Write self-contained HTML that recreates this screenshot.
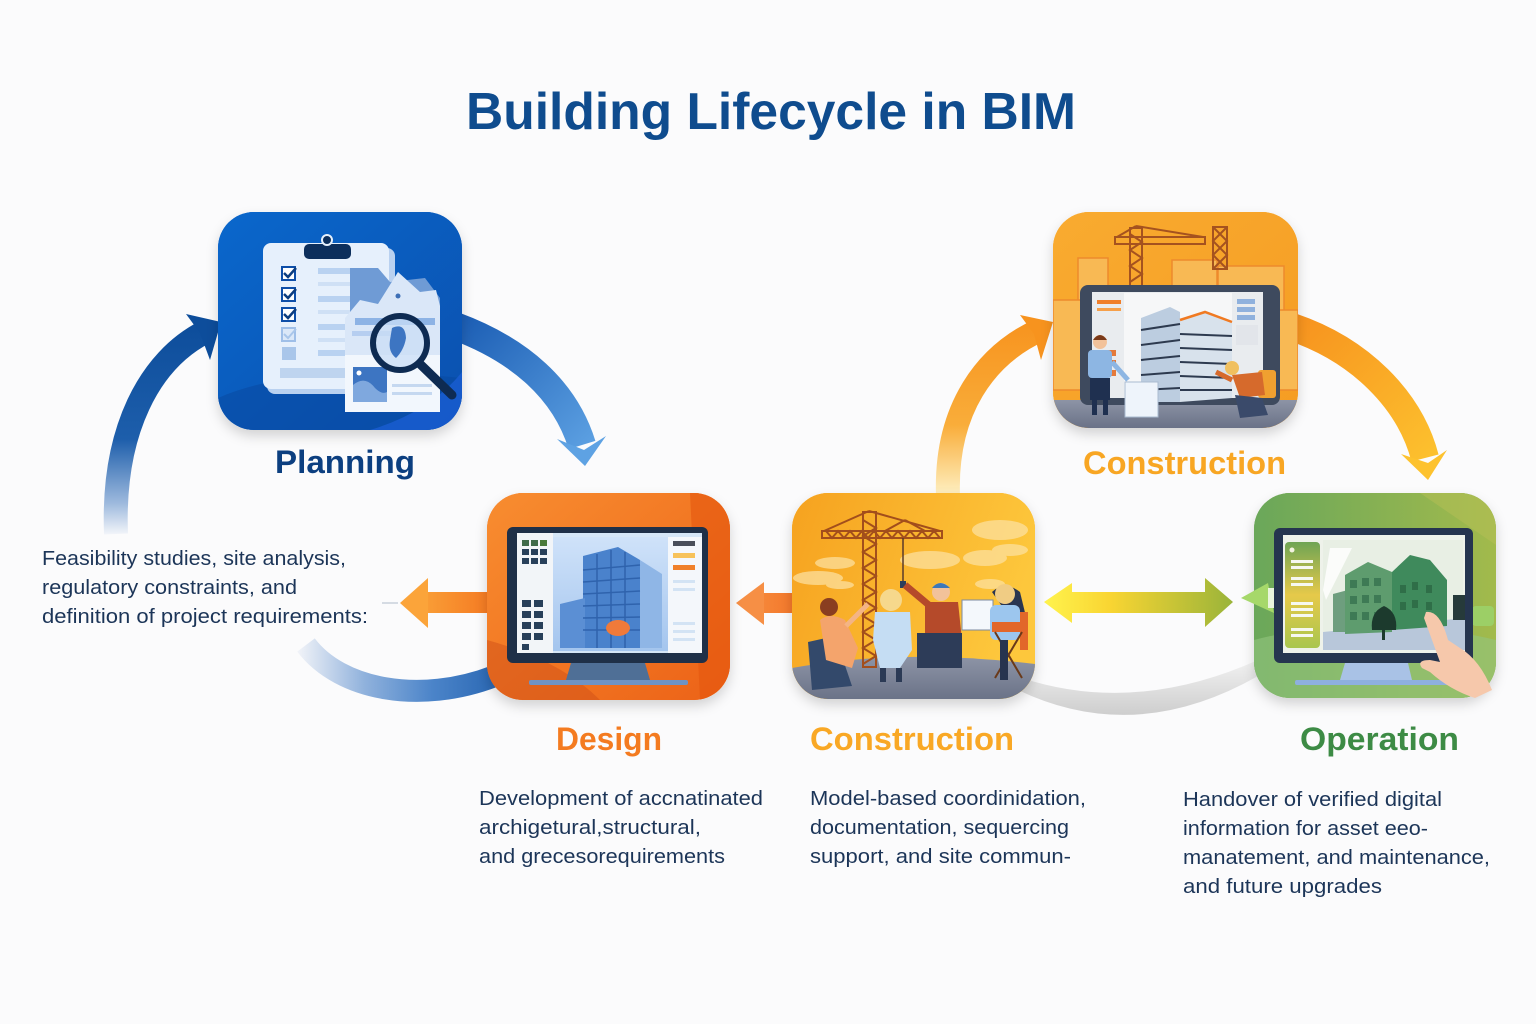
<!DOCTYPE html>
<html><head><meta charset="utf-8">
<style>
html,body{margin:0;padding:0;background:#fbfbfc;}
svg{display:block}
text{font-family:"Liberation Sans",Arial,sans-serif}
</style></head><body>
<svg width="1536" height="1024" viewBox="0 0 1536 1024" xmlns="http://www.w3.org/2000/svg">
<defs>
 <linearGradient id="gL" gradientUnits="userSpaceOnUse" x1="0" y1="322" x2="0" y2="535"><stop offset="0" stop-color="#0d4d9b"/><stop offset="0.55" stop-color="#1d5eab"/><stop offset="0.85" stop-color="#9db9dd"/><stop offset="1" stop-color="#f4f6fa"/></linearGradient>
 <linearGradient id="gR" gradientUnits="userSpaceOnUse" x1="455" y1="320" x2="600" y2="460"><stop offset="0" stop-color="#1a5cb3"/><stop offset="1" stop-color="#62a6e6"/></linearGradient>
 <linearGradient id="gB" gradientUnits="userSpaceOnUse" x1="298" y1="0" x2="490" y2="0"><stop offset="0" stop-color="#f1f3f8"/><stop offset="0.35" stop-color="#8fb1dc"/><stop offset="0.7" stop-color="#4b84c9"/><stop offset="1" stop-color="#2e6bb6"/></linearGradient>
 <linearGradient id="gOL" gradientUnits="userSpaceOnUse" x1="400" y1="0" x2="490" y2="0"><stop offset="0" stop-color="#fbab3e"/><stop offset="1" stop-color="#f57a22"/></linearGradient>
 <linearGradient id="gOM" gradientUnits="userSpaceOnUse" x1="735" y1="0" x2="795" y2="0"><stop offset="0" stop-color="#f69345"/><stop offset="1" stop-color="#f4772a"/></linearGradient>
 <linearGradient id="gOU" gradientUnits="userSpaceOnUse" x1="0" y1="320" x2="0" y2="495"><stop offset="0" stop-color="#f7931e"/><stop offset="0.6" stop-color="#f9ad3a"/><stop offset="1" stop-color="#fef0c2"/></linearGradient>
 <linearGradient id="gOD" gradientUnits="userSpaceOnUse" x1="1292" y1="320" x2="1440" y2="480"><stop offset="0" stop-color="#f7921e"/><stop offset="1" stop-color="#fdc630"/></linearGradient>
 <linearGradient id="gDA" gradientUnits="userSpaceOnUse" x1="1044" y1="0" x2="1233" y2="0"><stop offset="0" stop-color="#fff34d"/><stop offset="0.35" stop-color="#f9d532"/><stop offset="1" stop-color="#9ab43a"/></linearGradient>
 <linearGradient id="gGr" gradientUnits="userSpaceOnUse" x1="0" y1="660" x2="0" y2="716"><stop offset="0" stop-color="#f2f2f2"/><stop offset="1" stop-color="#cdcdcd"/></linearGradient>
 <linearGradient id="tP" x1="0" y1="0" x2="1" y2="1"><stop offset="0" stop-color="#0a67cc"/><stop offset="1" stop-color="#0b50ae"/></linearGradient>
 <linearGradient id="tD" x1="0" y1="0" x2="1" y2="1"><stop offset="0" stop-color="#f88d30"/><stop offset="1" stop-color="#ec6217"/></linearGradient>
 <linearGradient id="tC" x1="0" y1="0" x2="1" y2="0.3"><stop offset="0" stop-color="#f6a21f"/><stop offset="1" stop-color="#fdc73c"/></linearGradient>
 <linearGradient id="tT" x1="0" y1="0" x2="1" y2="1"><stop offset="0" stop-color="#f9ab30"/><stop offset="1" stop-color="#f59c22"/></linearGradient>
 <linearGradient id="tO" x1="0" y1="0" x2="1" y2="0"><stop offset="0" stop-color="#6aa75a"/><stop offset="1" stop-color="#a2ba4c"/></linearGradient>
 <linearGradient id="gOP" x1="0" y1="0" x2="0" y2="1"><stop offset="0" stop-color="#6fa454"/><stop offset="0.5" stop-color="#e6c94a"/><stop offset="1" stop-color="#a9c64e"/></linearGradient>
 <linearGradient id="gSky" x1="0" y1="0" x2="0" y2="1"><stop offset="0" stop-color="#cfe2f9"/><stop offset="1" stop-color="#a4c5ee"/></linearGradient>
 <linearGradient id="gGnd" x1="0" y1="0" x2="0" y2="1"><stop offset="0" stop-color="#8d94a6"/><stop offset="1" stop-color="#6a7287"/></linearGradient>
 <clipPath id="cP"><rect x="218" y="212" width="244" height="218" rx="36"/></clipPath>
 <clipPath id="cD"><rect x="487" y="493" width="243" height="207" rx="36"/></clipPath>
 <clipPath id="cC"><rect x="792" y="493" width="243" height="206" rx="36"/></clipPath>
 <clipPath id="cT"><rect x="1053" y="212" width="245" height="216" rx="36"/></clipPath>
 <clipPath id="cO"><rect x="1254" y="493" width="242" height="205" rx="36"/></clipPath>
 <filter id="sh" x="-20%" y="-20%" width="140%" height="150%"><feDropShadow dx="0" dy="6" stdDeviation="6" flood-color="#000" flood-opacity="0.16"/></filter>
</defs>

<rect x="0" y="0" width="1536" height="1024" fill="#fbfbfc"/>

<!-- Title -->
<text x="466" y="129" font-size="52" font-weight="bold" fill="#0f4c8e" textLength="610" lengthAdjust="spacingAndGlyphs">Building Lifecycle in BIM</text>

<!-- Arrows -->
<path d="M116 534 C112 430 150 360 205 332" fill="none" stroke="url(#gL)" stroke-width="24"/>
<polygon points="221,322 186,314 200,333 210,360" fill="#0d4d9b"/>

<path d="M455 326 C520 350 565 390 582 445" fill="none" stroke="url(#gR)" stroke-width="28"/>
<polygon points="585,466 557,439 584,450 606,436" fill="#5ea2e3"/>

<path d="M306 645 C340 690 420 705 495 676" fill="none" stroke="url(#gB)" stroke-width="22"/>

<line x1="382" y1="603" x2="398" y2="603" stroke="#d5dbe3" stroke-width="2"/>
<rect x="425" y="592" width="66" height="21" fill="url(#gOL)"/>
<polygon points="400,603 428,578 428,628" fill="#fba43a"/>

<rect x="760" y="593" width="36" height="20" fill="url(#gOM)"/>
<polygon points="736,603 764,582 764,625" fill="#f68f45"/>

<path d="M948 496 C945 410 985 355 1040 330" fill="none" stroke="url(#gOU)" stroke-width="24"/>
<polygon points="1053,322 1020,315 1034,334 1041,360" fill="#f7931e"/>

<path d="M1292 327 C1360 350 1410 400 1425 458" fill="none" stroke="url(#gOD)" stroke-width="28"/>
<polygon points="1428,480 1401,454 1428,463 1447,450" fill="#fdc22e"/>

<polygon points="1044,602 1072,583 1072,592 1205,592 1205,578 1233,602 1205,627 1205,613 1072,613 1072,623" fill="url(#gDA)"/>

<path d="M1018 690 Q1135 746 1258 676 L1258 660 Q1135 715 1022 678 Z" fill="url(#gGr)"/>

<!-- Planning tile -->
<rect x="218" y="212" width="244" height="218" rx="36" fill="#0b5cc0" filter="url(#sh)"/>
<g clip-path="url(#cP)">
 <rect x="218" y="212" width="244" height="218" fill="url(#tP)"/>
 <path d="M218 398 Q300 362 462 378 L462 430 L218 430Z" fill="#0a48a0" opacity="0.55"/>
 <path d="M370 430 Q430 412 462 372 L462 430Z" fill="#1c60d8" opacity="0.7"/>
</g>
<rect x="267" y="248" width="128" height="146" rx="8" fill="#b9d1f0"/>
<rect x="263" y="243" width="126" height="146" rx="8" fill="#e6f0fc"/>
<rect x="304" y="244" width="47" height="15" rx="5" fill="#0d2f5c"/>
<circle cx="327" cy="240" r="5" fill="#0d2f5c" stroke="#e6f0fc" stroke-width="2"/>
<g stroke-width="2" fill="#fff">
 <rect x="282" y="267" width="13" height="13" stroke="#0d4ea8"/>
 <rect x="282" y="288" width="13" height="13" stroke="#0d4ea8"/>
 <rect x="282" y="308" width="13" height="13" stroke="#0d4ea8"/>
 <rect x="282" y="328" width="13" height="13" stroke="#9fbfe8" fill="#dbe8f8"/>
</g>
<g fill="none" stroke="#0d3e80" stroke-width="2.5">
 <path d="M284 273 l4 4 l8 -9"/><path d="M284 294 l4 4 l8 -9"/><path d="M284 314 l4 4 l8 -9"/>
</g>
<path d="M284 334 l4 4 l8 -9" fill="none" stroke="#a9c6ea" stroke-width="2"/>
<rect x="282" y="347" width="14" height="13" fill="#a9c6ea"/>
<g fill="#b9d2f1">
 <rect x="318" y="268" width="55" height="6"/><rect x="318" y="282" width="50" height="4" fill="#cfe0f5"/>
 <rect x="318" y="296" width="55" height="6"/><rect x="318" y="310" width="50" height="4" fill="#cfe0f5"/>
 <rect x="318" y="324" width="55" height="6"/><rect x="318" y="338" width="50" height="4" fill="#cfe0f5"/>
 <rect x="318" y="350" width="55" height="6"/>
 <rect x="280" y="368" width="93" height="10" fill="#bed4ef"/>
</g>
<path d="M350 268 L378 268 L390 282 L425 278 L440 298 L440 330 L350 330Z" fill="#6f9bd5"/>
<path d="M345 318 L360 300 L378 304 L398 272 L420 292 L436 290 L440 306 L440 412 L345 412Z" fill="#dae7f8"/>
<rect x="345" y="355" width="95" height="57" fill="#f2f7fd"/>
<circle cx="398" cy="296" r="2.5" fill="#3d6fb6"/>
<rect x="355" y="318" width="80" height="7" fill="#8db3e5"/>
<rect x="352" y="331" width="40" height="5" fill="#b6cef0"/>
<rect x="353" y="367" width="34" height="35" fill="#3d75c2"/>
<path d="M353 402 L353 385 Q365 375 375 388 Q382 395 387 392 L387 402Z" fill="#7fa8de"/>
<circle cx="359" cy="373" r="2.5" fill="#fff"/>
<rect x="392" y="384" width="40" height="3" fill="#c5d8f0"/>
<rect x="392" y="392" width="40" height="3" fill="#c5d8f0"/>
<circle cx="400" cy="343" r="27" fill="#c9ddf5" fill-opacity="0.75" stroke="#0e2b52" stroke-width="6"/>
<path d="M392 328 Q405 322 406 338 Q404 350 396 358 Q388 352 390 340Z" fill="#3d75c2"/>
<line x1="420" y1="364" x2="452" y2="395" stroke="#0e2b52" stroke-width="9" stroke-linecap="round"/>

<!-- Design tile -->
<rect x="487" y="493" width="243" height="207" rx="36" fill="#f07020" filter="url(#sh)"/>
<g clip-path="url(#cD)">
 <rect x="487" y="493" width="243" height="207" fill="url(#tD)"/>
 <path d="M487 640 Q560 660 600 700 L487 700Z" fill="#cf4f18" opacity="0.5"/>
 <path d="M690 493 L730 493 L730 700 L700 700 Z" fill="#e4560f" opacity="0.6"/>
</g>
<rect x="507" y="527" width="201" height="136" rx="6" fill="#1f3048"/>
<rect x="517" y="533" width="185" height="120" fill="#d5e6f7"/>
<rect x="517" y="533" width="36" height="120" fill="#f2f5f8"/>
<g fill="#28405a">
 <rect x="522" y="540" width="7" height="6" fill="#3f6b4a"/><rect x="531" y="540" width="7" height="6" fill="#3f6b4a"/><rect x="540" y="540" width="7" height="6" fill="#4a7a3a"/>
 <rect x="522" y="549" width="7" height="6"/><rect x="531" y="549" width="7" height="6"/><rect x="540" y="549" width="7" height="6"/>
 <rect x="522" y="558" width="7" height="6"/><rect x="531" y="558" width="7" height="6"/><rect x="540" y="558" width="7" height="6"/>
 <rect x="522" y="600" width="9" height="7"/><rect x="534" y="600" width="9" height="7"/>
 <rect x="522" y="611" width="9" height="7"/><rect x="534" y="611" width="9" height="7"/>
 <rect x="522" y="622" width="9" height="7"/><rect x="534" y="622" width="9" height="7"/>
 <rect x="522" y="633" width="9" height="7"/><rect x="534" y="633" width="9" height="7"/>
 <rect x="522" y="644" width="7" height="6"/>
</g>
<rect x="553" y="537" width="115" height="114" fill="url(#gSky)"/>
<polygon points="583,556 618,547 640,560 640,648 583,648" fill="#4a82cc"/>
<polygon points="640,560 662,574 662,648 640,648" fill="#8fb6e6"/>
<polygon points="560,604 585,598 585,648 560,648" fill="#5b8fd4"/>
<g stroke="#2f63ad" stroke-width="1.5">
 <line x1="583" y1="570" x2="640" y2="565"/><line x1="583" y1="582" x2="640" y2="578"/><line x1="583" y1="594" x2="640" y2="591"/><line x1="583" y1="606" x2="640" y2="604"/><line x1="583" y1="618" x2="640" y2="617"/><line x1="583" y1="630" x2="640" y2="630"/>
 <line x1="597" y1="554" x2="597" y2="648"/><line x1="611" y1="550" x2="611" y2="648"/><line x1="625" y1="552" x2="625" y2="648"/>
</g>
<ellipse cx="618" cy="628" rx="12" ry="8" fill="#f07a3a"/>
<rect x="668" y="537" width="34" height="116" fill="#f4f7fb"/>
<rect x="673" y="541" width="22" height="5" fill="#4a4f5a"/>
<rect x="673" y="553" width="22" height="5" fill="#f7c25a"/>
<rect x="673" y="565" width="22" height="5" fill="#f0802a"/>
<g fill="#d3e3f4"><rect x="673" y="580" width="22" height="3"/><rect x="673" y="588" width="22" height="3"/><rect x="673" y="622" width="22" height="3"/><rect x="673" y="630" width="22" height="3"/><rect x="673" y="638" width="22" height="3"/></g>
<polygon points="571,663 645,663 650,680 566,680" fill="#4f6f96"/>
<rect x="529" y="680" width="159" height="5" rx="2" fill="#6f93c4"/>

<!-- Construction (middle) tile -->
<rect x="792" y="493" width="243" height="206" rx="36" fill="#f8b02c" filter="url(#sh)"/>
<g clip-path="url(#cC)">
 <rect x="792" y="493" width="243" height="206" fill="url(#tC)"/>
 <g fill="#fde3a5" opacity="0.7">
  <ellipse cx="1000" cy="530" rx="28" ry="10"/><ellipse cx="985" cy="558" rx="22" ry="8"/><ellipse cx="835" cy="563" rx="20" ry="6"/><ellipse cx="818" cy="578" rx="25" ry="7"/><ellipse cx="930" cy="560" rx="30" ry="9"/><ellipse cx="990" cy="584" rx="15" ry="5"/><ellipse cx="1010" cy="550" rx="18" ry="6"/><ellipse cx="840" cy="585" rx="14" ry="4"/>
 </g>
 <path d="M792 668 Q900 648 1035 664 L1035 700 L792 700Z" fill="url(#gGnd)"/>
 <g stroke="#a24e1c" stroke-width="2" fill="none">
  <rect x="863" y="512" width="13" height="155"/>
  <polyline points="863,520 876,528 863,536 876,544 863,552 876,560 863,568 876,576 863,584 876,592 863,600 876,608 863,616 876,624 863,632 876,640 863,648 876,656 863,664"/>
  <rect x="822" y="531" width="120" height="7"/>
  <polyline points="826,531 832,538 838,531 844,538 850,531 856,538 862,531 868,538 874,531 880,538 886,531 892,538 898,531 904,538 910,531 916,538 922,531 928,538 934,531 940,538"/>
  <line x1="869" y1="511" x2="824" y2="531"/><line x1="869" y1="511" x2="940" y2="531"/>
  <line x1="905" y1="520" x2="885" y2="531"/><line x1="905" y1="520" x2="925" y2="531"/>
 </g>
 <line x1="903" y1="538" x2="903" y2="582" stroke="#5a3a2a" stroke-width="1.5"/>
 <rect x="900" y="581" width="6" height="7" fill="#2c3e5c"/>
 <path d="M808 642 L835 636 L852 686 L812 690Z" fill="#33496b"/>
 <path d="M820 620 Q830 612 845 620 L858 648 L852 668 L826 660Z" fill="#f4a46c"/>
 <circle cx="829" cy="607" r="9" fill="#8a3e20"/>
 <path d="M846 626 L868 604" stroke="#f4b485" stroke-width="5"/>
 <path d="M875 612 L910 612 L912 650 L900 668 L880 668 L873 640Z" fill="#c5ddf3"/>
 <circle cx="891" cy="600" r="11" fill="#f6d88c"/>
 <rect x="880" y="668" width="6" height="14" fill="#2b3a55"/><rect x="896" y="668" width="6" height="14" fill="#2b3a55"/>
 <path d="M925 602 L958 602 L962 640 L925 640Z" fill="#b54a2a"/>
 <path d="M930 606 L905 585" stroke="#b54a2a" stroke-width="7"/>
 <circle cx="941" cy="592" r="9" fill="#f2c29a"/>
 <path d="M932 588 Q940 578 950 588 Z" fill="#3d78b8"/>
 <rect x="917" y="633" width="45" height="35" fill="#2d3c58"/>
 <rect x="962" y="600" width="31" height="30" fill="#f4f8fc" stroke="#7c8aa0" stroke-width="1"/>
 <path d="M992 592 Q1005 580 1020 592 L1028 625 L1015 625Z" fill="#2a3550"/>
 <rect x="990" y="605" width="30" height="35" rx="6" fill="#9cc6ee"/>
 <circle cx="1005" cy="594" r="10" fill="#f0cc84"/>
 <rect x="992" y="622" width="36" height="10" fill="#e2672a"/>
 <rect x="1020" y="612" width="8" height="38" fill="#e2672a"/>
 <path d="M995 632 L1022 678 M1022 632 L995 678" stroke="#6a3a1a" stroke-width="2"/>
 <rect x="1000" y="640" width="8" height="40" fill="#27344f"/>
</g>

<!-- Construction (top) tile -->
<rect x="1053" y="212" width="245" height="216" rx="36" fill="#f8a629" filter="url(#sh)"/>
<g clip-path="url(#cT)">
 <rect x="1053" y="212" width="245" height="216" fill="url(#tT)"/>
 <g fill="#f8b954" stroke="#ee8a2c" stroke-width="1.5">
  <rect x="1078" y="258" width="30" height="45"/><rect x="1172" y="260" width="45" height="30"/><rect x="1218" y="266" width="66" height="60"/><rect x="1053" y="300" width="30" height="90"/><rect x="1268" y="310" width="30" height="80"/>
 </g>
 <g stroke="#a5521f" stroke-width="2" fill="none">
  <rect x="1130" y="228" width="12" height="58"/>
  <polyline points="1130,234 1142,242 1130,250 1142,258 1130,266 1142,274 1130,282"/>
  <rect x="1115" y="237" width="90" height="7"/>
  <line x1="1136" y1="226" x2="1117" y2="237"/><line x1="1136" y1="226" x2="1203" y2="237"/>
  <rect x="1213" y="227" width="14" height="42"/>
  <polyline points="1213,227 1227,241 1213,255 1227,269"/><polyline points="1227,227 1213,241 1227,255 1213,269"/>
 </g>
 <path d="M1053 400 L1298 400 L1298 428 L1053 428Z" fill="url(#gGnd)"/>
</g>
<rect x="1080" y="285" width="200" height="120" rx="8" fill="#3e4a5e"/>
<rect x="1092" y="292" width="171" height="106" fill="#e9ecef"/>
<rect x="1124" y="293" width="108" height="105" fill="#f6f7f8"/>
<rect x="1097" y="300" width="24" height="4" fill="#f07f2a"/>
<rect x="1097" y="308" width="24" height="3" fill="#f6a04a"/>
<g fill="#e57a3a"><rect x="1108" y="350" width="8" height="6"/><rect x="1108" y="360" width="8" height="6"/><rect x="1108" y="370" width="8" height="6"/></g>
<rect x="1237" y="299" width="18" height="5" fill="#8fb1dd"/>
<rect x="1237" y="307" width="18" height="5" fill="#8fb1dd"/>
<rect x="1237" y="315" width="18" height="5" fill="#8fb1dd"/>
<rect x="1236" y="325" width="22" height="20" fill="#e2e5ea"/>
<polygon points="1141,318 1170,307 1180,312 1180,402 1141,402" fill="#bccde0"/>
<polygon points="1180,320 1205,312 1232,322 1232,398 1180,402" fill="#d8e2ec"/>
<polyline points="1180,320 1205,312 1232,322" fill="none" stroke="#f07a22" stroke-width="2.5"/>
<g stroke="#2d3a4f" stroke-width="2">
 <line x1="1141" y1="330" x2="1180" y2="324"/><line x1="1141" y1="345" x2="1180" y2="340"/><line x1="1141" y1="360" x2="1180" y2="356"/><line x1="1141" y1="375" x2="1180" y2="372"/><line x1="1141" y1="390" x2="1180" y2="388"/>
 <line x1="1180" y1="334" x2="1232" y2="336"/><line x1="1180" y1="348" x2="1232" y2="350"/><line x1="1180" y1="362" x2="1232" y2="364"/><line x1="1180" y1="376" x2="1232" y2="378"/><line x1="1180" y1="390" x2="1232" y2="390"/>
</g>
<rect x="1125" y="382" width="33" height="35" fill="#eef4fb" stroke="#aabbd0" stroke-width="1"/>
<rect x="1088" y="350" width="24" height="28" rx="4" fill="#8db6e3"/>
<circle cx="1100" cy="342" r="7" fill="#f2c29a"/>
<path d="M1093 340 Q1100 330 1107 340Z" fill="#7a3a1a"/>
<rect x="1090" y="378" width="20" height="22" fill="#1f3050"/>
<rect x="1092" y="400" width="5" height="15" fill="#1f3050"/><rect x="1103" y="400" width="5" height="15" fill="#1f3050"/>
<path d="M1112 362 L1128 380" stroke="#8db6e3" stroke-width="5"/>
<rect x="1258" y="370" width="18" height="28" rx="3" fill="#f0a030"/>
<path d="M1232 375 L1262 372 L1265 395 L1240 398Z" fill="#d66a2c"/>
<circle cx="1232" cy="368" r="7" fill="#f0c060"/>
<path d="M1235 395 L1262 398 L1268 415 L1240 418Z" fill="#3a4a6a"/>
<path d="M1232 380 L1216 372" stroke="#d66a2c" stroke-width="5"/>

<!-- Operation tile -->
<rect x="1254" y="493" width="242" height="205" rx="36" fill="#7cae5a" filter="url(#sh)"/>
<g clip-path="url(#cO)">
 <rect x="1254" y="493" width="242" height="205" fill="url(#tO)"/>
 <path d="M1254 640 Q1370 610 1496 640 L1496 698 L1254 698Z" fill="#93c57f" opacity="0.6"/>
 <path d="M1420 493 L1496 493 L1496 545Z" fill="#b5bf55" opacity="0.5"/>
</g>
<polygon points="1241,598 1268,583 1274,613" fill="#a6d86a"/>
<rect x="1268" y="588" width="6" height="20" fill="#e9f5dc"/>
<rect x="1472" y="606" width="22" height="20" rx="4" fill="#9ccf66"/>
<rect x="1274" y="528" width="199" height="135" rx="6" fill="#25354f"/>
<rect x="1283" y="535" width="182" height="118" fill="#eef2ea"/>
<rect x="1285" y="542" width="35" height="106" rx="4" fill="url(#gOP)"/>
<circle cx="1292" cy="550" r="2.5" fill="#f3f3e0"/>
<g fill="#f6f8f0">
 <rect x="1291" y="560" width="22" height="3"/><rect x="1291" y="566" width="22" height="3"/>
 <rect x="1291" y="577" width="22" height="3"/><rect x="1291" y="583" width="22" height="3"/>
 <rect x="1291" y="602" width="22" height="3"/><rect x="1291" y="608" width="22" height="3"/><rect x="1291" y="614" width="22" height="3"/>
 <rect x="1291" y="628" width="22" height="3"/><rect x="1291" y="634" width="22" height="3"/>
</g>
<rect x="1323" y="540" width="140" height="110" fill="#e8efe4"/>
<polygon points="1323,632 1465,618 1465,650 1323,650" fill="#b8c7da"/>
<polygon points="1330,548 1352,548 1326,600 1323,590" fill="#ffffff" opacity="0.8"/>
<polygon points="1333,594 1348,590 1348,632 1333,632" fill="#6e9e7e"/>
<polygon points="1345,575 1368,562 1392,572 1392,632 1345,634" fill="#5e9c6e"/>
<polygon points="1392,572 1410,555 1430,560 1447,580 1447,626 1392,630" fill="#3f8a5c"/>
<g fill="#3e7a55">
 <rect x="1350" y="580" width="7" height="8"/><rect x="1362" y="578" width="7" height="8"/><rect x="1374" y="578" width="7" height="8"/>
 <rect x="1350" y="596" width="7" height="8"/><rect x="1362" y="595" width="7" height="8"/><rect x="1374" y="595" width="7" height="8"/>
 <rect x="1350" y="612" width="7" height="8"/><rect x="1362" y="612" width="7" height="8"/><rect x="1374" y="612" width="7" height="8"/>
</g>
<g fill="#2f6e48"><rect x="1400" y="585" width="6" height="8"/><rect x="1412" y="582" width="6" height="8"/><rect x="1426" y="585" width="6" height="8"/><rect x="1400" y="602" width="6" height="8"/><rect x="1412" y="600" width="6" height="8"/><rect x="1426" y="602" width="6" height="8"/></g>
<path d="M1372 630 Q1370 612 1384 606 Q1398 612 1396 630Z" fill="#1c3a2d"/>
<rect x="1382" y="628" width="3" height="12" fill="#1c3a2d"/>
<rect x="1453" y="595" width="12" height="25" fill="#263a3a"/>
<polygon points="1345,663 1408,663 1412,680 1340,680" fill="#a9c2e6"/>
<rect x="1295" y="680" width="163" height="5" rx="2" fill="#8eb0df"/>
<path d="M1426 612 Q1440 610 1448 640 L1460 648 Q1480 660 1492 690 L1475 698 Q1450 690 1430 672 L1422 668 Q1416 660 1430 660 L1440 662 Q1432 640 1424 618Z" fill="#f6c8ab"/>

<!-- Labels -->
<text x="275" y="473" font-size="32" font-weight="bold" fill="#0c3f80" textLength="140" lengthAdjust="spacingAndGlyphs">Planning</text>
<text x="1083" y="474" font-size="32" font-weight="bold" fill="#f8a623" textLength="203" lengthAdjust="spacingAndGlyphs">Construction</text>
<text x="556" y="750" font-size="32" font-weight="bold" fill="#f47b20" textLength="106" lengthAdjust="spacingAndGlyphs">Design</text>
<text x="810" y="750" font-size="32" font-weight="bold" fill="#f9a825" textLength="204" lengthAdjust="spacingAndGlyphs">Construction</text>
<text x="1300" y="750" font-size="32" font-weight="bold" fill="#3d8b45" textLength="159" lengthAdjust="spacingAndGlyphs">Operation</text>

<!-- Body text -->
<g font-size="20" fill="#1c3558">
 <text x="42" y="565" textLength="304" lengthAdjust="spacingAndGlyphs">Feasibility studies, site analysis,</text>
 <text x="42" y="594" textLength="255" lengthAdjust="spacingAndGlyphs">regulatory constraints, and</text>
 <text x="42" y="623" textLength="326" lengthAdjust="spacingAndGlyphs">definition of project requirements:</text>

 <text x="479" y="805" textLength="284" lengthAdjust="spacingAndGlyphs">Development of accnatinated</text>
 <text x="479" y="834" textLength="222" lengthAdjust="spacingAndGlyphs">archigetural,structural,</text>
 <text x="479" y="863" textLength="246" lengthAdjust="spacingAndGlyphs">and grecesorequirements</text>

 <text x="810" y="805" textLength="276" lengthAdjust="spacingAndGlyphs">Model-based coordinidation,</text>
 <text x="810" y="834" textLength="259" lengthAdjust="spacingAndGlyphs">documentation, sequercing</text>
 <text x="810" y="863" textLength="261" lengthAdjust="spacingAndGlyphs">support, and site commun-</text>

 <text x="1183" y="806" textLength="259" lengthAdjust="spacingAndGlyphs">Handover of verified digital</text>
 <text x="1183" y="835" textLength="245" lengthAdjust="spacingAndGlyphs">information for asset eeo-</text>
 <text x="1183" y="864" textLength="307" lengthAdjust="spacingAndGlyphs">manatement, and maintenance,</text>
 <text x="1183" y="893" textLength="199" lengthAdjust="spacingAndGlyphs">and future upgrades</text>
</g>
</svg>
</body></html>
